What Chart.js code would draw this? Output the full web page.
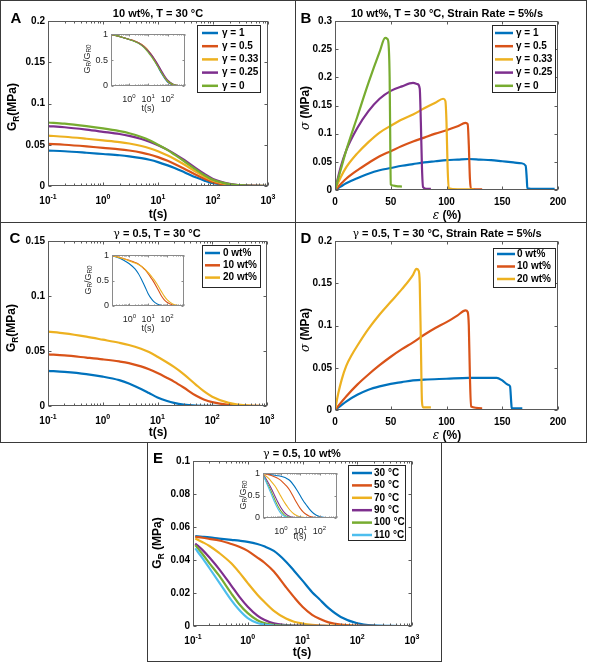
<!DOCTYPE html>
<html>
<head>
<meta charset="utf-8">
<script src="https://cdn.jsdelivr.net/npm/chart.js@4.4.1/dist/chart.umd.min.js"></script>
<style>
    body { margin: 0; background: #fff; }
    #fig { position: relative; width: 590px; height: 664px; overflow: hidden; font-family: "Liberation Sans", Arial, sans-serif; }
    canvas { position: absolute; }
    .t { position: absolute; transform: translate(-50%, -50%); white-space: nowrap; font-weight: bold; color: #000; z-index: 5; line-height: 1; }
    .ttl { font-size: 11px; }
    .ax { font-size: 12px; }
    .rot { transform: translate(-50%, -50%) rotate(-90deg); }
    .let { font-size: 15px; }
    .ins { font-size: 9px; font-weight: normal; color: #262626; }
    .sym { font-family: "DejaVu Serif", serif; font-weight: normal; }
    .it { font-family: "DejaVu Serif", serif; font-style: italic; font-weight: normal; }
    sub { font-size: 0.7em; vertical-align: -0.3em; line-height: 0; }
    .ln { position: absolute; background: #3a3a3a; z-index: 6; }
</style>
</head>
<body>
<div id="fig">
    <!-- panel frames -->
    <div class="ln" style="left:0;top:0;width:587px;height:1px"></div>
    <div class="ln" style="left:0;top:0;width:1px;height:443px"></div>
    <div class="ln" style="left:586px;top:0;width:1px;height:443px"></div>
    <div class="ln" style="left:295px;top:0;width:1px;height:443px"></div>
    <div class="ln" style="left:0;top:222px;width:587px;height:1px"></div>
    <div class="ln" style="left:0;top:442px;width:587px;height:1px"></div>
    <div class="ln" style="left:147px;top:442px;width:1px;height:220px"></div>
    <div class="ln" style="left:441px;top:442px;width:1px;height:220px"></div>
    <div class="ln" style="left:147px;top:661px;width:295px;height:1px"></div>

    <!-- panel letters -->
    <div class="t let" style="left:16px;top:17px">A</div>
    <div class="t let" style="left:306px;top:17px">B</div>
    <div class="t let" style="left:15px;top:237px">C</div>
    <div class="t let" style="left:306px;top:237px">D</div>
    <div class="t let" style="left:158px;top:457px">E</div>

    <!-- titles -->
    <div class="t ttl" style="left:158px;top:13px">10 wt%, T = 30 °C</div>
    <div class="t ttl" style="left:447px;top:13px">10 wt%, T = 30 °C, Strain Rate = 5%/s</div>
    <div class="t ttl" style="left:157px;top:233px"><span class="sym">γ</span> = 0.5, T = 30 °C</div>
    <div class="t ttl" style="left:447px;top:233px"><span class="sym">γ</span> = 0.5, T = 30 °C, Strain Rate = 5%/s</div>
    <div class="t ttl" style="left:302px;top:453px"><span class="sym">γ</span> = 0.5, 10 wt%</div>

    <!-- axis titles -->
    <div class="t ax rot" style="left:12px;top:107px">G<sub>R</sub>(MPa)</div>
    <div class="t ax" style="left:158px;top:214px">t(s)</div>
    <div class="t ax rot" style="left:305px;top:108px"><span class="it">σ</span> (MPa)</div>
    <div class="t ax" style="left:447px;top:215px"><span class="it">ε</span> (%)</div>
    <div class="t ax rot" style="left:11px;top:328px">G<sub>R</sub>(MPa)</div>
    <div class="t ax" style="left:158px;top:432px">t(s)</div>
    <div class="t ax rot" style="left:305px;top:330px"><span class="it">σ</span> (MPa)</div>
    <div class="t ax" style="left:447px;top:435px"><span class="it">ε</span> (%)</div>
    <div class="t ax rot" style="left:157px;top:543px">G<sub>R</sub> (MPa)</div>
    <div class="t ax" style="left:302px;top:652px">t(s)</div>

    <!-- inset titles -->
    <div class="t ins rot" style="left:87px;top:59px">G<sub>R</sub>/G<sub>R0</sub></div>
    <div class="t ins" style="left:148px;top:108px">t(s)</div>
    <div class="t ins rot" style="left:88px;top:280px">G<sub>R</sub>/G<sub>R0</sub></div>
    <div class="t ins" style="left:148px;top:328px">t(s)</div>
    <div class="t ins rot" style="left:243px;top:495px">G<sub>R</sub>/G<sub>R0</sub></div>
    <div class="t ins" style="left:300px;top:536px">t(s)</div>
</div>

<script>
// ---- A: relaxation modulus, 10 wt%, 30 °C, varying gamma
const tA = [0.1, 0.2, 0.5, 1, 2, 3, 5, 7, 10, 15, 20, 30, 50, 70, 100, 200, 300, 500, 1000];
const gammaNames = ['γ = 1', 'γ = 0.5', 'γ = 0.33', 'γ = 0.25', 'γ = 0'];
const relaxA_g1   = [0.043, 0.0421, 0.0403, 0.0388, 0.0373, 0.036, 0.0338, 0.0318, 0.029, 0.025, 0.0218, 0.0168, 0.0102, 0.0065, 0.0033, 0.0007, 0.0002, 0, 0];
const relaxA_g05  = [0.051, 0.050, 0.048, 0.0462, 0.0445, 0.043, 0.0405, 0.0382, 0.035, 0.0305, 0.0268, 0.021, 0.0132, 0.0087, 0.0047, 0.0011, 0.0004, 0.0001, 0];
const relaxA_g033 = [0.061, 0.0597, 0.0573, 0.0553, 0.0532, 0.0515, 0.0485, 0.0458, 0.0422, 0.037, 0.0327, 0.026, 0.0168, 0.0113, 0.0065, 0.0017, 0.0007, 0.0002, 0];
const relaxA_g025 = [0.0726, 0.0712, 0.0683, 0.0657, 0.063, 0.0608, 0.057, 0.0537, 0.0495, 0.0438, 0.039, 0.0315, 0.021, 0.0145, 0.0085, 0.0025, 0.0011, 0.0004, 0];
const relaxA_g0   = [0.077, 0.0755, 0.0725, 0.0698, 0.0665, 0.064, 0.0595, 0.0555, 0.050, 0.0435, 0.038, 0.030, 0.0195, 0.013, 0.0075, 0.0022, 0.001, 0.0003, 0];

// ---- B: stress-strain, 10 wt%, varying gamma
const strainB_g1   = [0, 5, 10, 20, 30, 40, 50, 60, 70, 80, 90, 100, 110, 120, 130, 140, 150, 160, 167, 171, 172, 172.5, 180, 197];
const stressB_g1   = [0, 0.006, 0.012, 0.021, 0.029, 0.035, 0.039, 0.043, 0.046, 0.049, 0.051, 0.053, 0.054, 0.055, 0.054, 0.053, 0.051, 0.049, 0.0475, 0.043, 0.02, 0.003, 0.002, 0.002];
const strainB_g05  = [0, 10, 20, 30, 40, 50, 60, 70, 80, 90, 100, 110, 117, 119, 120, 121, 122, 132];
const stressB_g05  = [0, 0.02, 0.035, 0.048, 0.06, 0.069, 0.078, 0.086, 0.093, 0.1, 0.106, 0.113, 0.119, 0.117, 0.08, 0.02, 0.002, 0.001];
const strainB_g033 = [0, 5, 10, 20, 30, 40, 50, 60, 70, 80, 90, 97, 99, 100, 101, 102, 110, 125];
const stressB_g033 = [0, 0.022, 0.04, 0.065, 0.085, 0.102, 0.114, 0.125, 0.134, 0.145, 0.155, 0.162, 0.158, 0.12, 0.04, 0.003, 0.001, 0.001];
const strainB_g025 = [0, 5, 10, 20, 30, 40, 50, 60, 70, 74, 76, 77, 78, 79, 82, 86];
const stressB_g025 = [0, 0.04, 0.07, 0.11, 0.14, 0.162, 0.176, 0.184, 0.19, 0.188, 0.18, 0.12, 0.04, 0.005, 0.002, 0.002];
const strainB_g0   = [0, 5, 10, 20, 30, 40, 45, 47, 48, 49, 49.5, 50, 52, 55, 60];
const stressB_g0   = [0, 0.035, 0.07, 0.13, 0.19, 0.245, 0.27, 0.268, 0.26, 0.2, 0.1, 0.01, 0.008, 0.007, 0.006];

// ---- C: relaxation modulus, gamma 0.5, varying loading
const tC = [0.1, 0.2, 0.5, 1, 2, 3, 5, 7, 10, 15, 20, 30, 50, 70, 100, 200, 300, 500, 800];
const wtNames = ['0 wt%', '10 wt%', '20 wt%'];
const relaxC_0  = [0.032, 0.031, 0.029, 0.0267, 0.0235, 0.0205, 0.0155, 0.0118, 0.0078, 0.0045, 0.0028, 0.0013, 0.0004, 0.0002, 0.0001, 0, 0, null, null];
const relaxC_10 = [0.047, 0.046, 0.044, 0.0424, 0.0405, 0.039, 0.036, 0.0335, 0.030, 0.0255, 0.0222, 0.0168, 0.0095, 0.006, 0.0035, 0.001, 0.0005, 0.0001, 0];
const relaxC_20 = [0.0676, 0.066, 0.063, 0.0603, 0.0575, 0.0555, 0.052, 0.049, 0.0448, 0.0395, 0.0355, 0.029, 0.0195, 0.0135, 0.0085, 0.0028, 0.0013, 0.0004, 0];

// ---- D: stress-strain, gamma 0.5, varying loading
const strainD_0  = [0, 5, 10, 20, 30, 40, 50, 60, 70, 80, 100, 120, 145, 150, 155, 157, 158, 158.5, 168];
const stressD_0  = [0, 0.005, 0.01, 0.018, 0.024, 0.028, 0.031, 0.033, 0.035, 0.036, 0.037, 0.038, 0.038, 0.035, 0.03, 0.028, 0.01, 0.002, 0.002];
const strainD_10 = [0, 10, 20, 30, 40, 50, 60, 70, 80, 90, 100, 110, 117, 119, 120, 121, 122, 132];
const stressD_10 = [0, 0.016, 0.03, 0.042, 0.053, 0.063, 0.072, 0.08, 0.089, 0.097, 0.104, 0.112, 0.118, 0.116, 0.1, 0.04, 0.004, 0.002];
const strainD_20 = [0, 3, 6, 10, 15, 20, 30, 40, 50, 60, 70, 73, 75, 76, 77, 78, 79, 86];
const stressD_20 = [0, 0.02, 0.036, 0.052, 0.065, 0.076, 0.096, 0.113, 0.128, 0.143, 0.16, 0.167, 0.165, 0.15, 0.08, 0.01, 0.003, 0.003];

// ---- E: relaxation modulus, gamma 0.5, 10 wt%, varying temperature
const tE = [0.11, 0.15, 0.2, 0.3, 0.5, 0.7, 1, 1.5, 2, 3, 5, 7, 10, 15, 20, 30, 50, 100, 200, 600];
const tempNames = ['30 °C', '50 °C', '70 °C', '90 °C', '100 °C', '110 °C'];
const relaxE_30  = [0.0545, 0.0541, 0.0537, 0.053, 0.0522, 0.0517, 0.051, 0.0497, 0.0483, 0.0455, 0.039, 0.0335, 0.0275, 0.0205, 0.0165, 0.0108, 0.0055, 0.0017, 0.0004, 0];
const relaxE_50  = [0.054, 0.0535, 0.0528, 0.0518, 0.0497, 0.048, 0.0455, 0.0415, 0.0385, 0.033, 0.0235, 0.0175, 0.0117, 0.0068, 0.0045, 0.0022, 0.0008, 0.0002, 0.00005, null];
const relaxE_70  = [0.053, 0.0508, 0.0485, 0.0443, 0.038, 0.0325, 0.026, 0.019, 0.0147, 0.0092, 0.0045, 0.0026, 0.0015, 0.0007, 0.0004, 0.0002, 0.0001, 0, null, null];
const relaxE_90  = [0.050, 0.046, 0.0415, 0.0345, 0.0245, 0.0178, 0.0117, 0.0063, 0.0038, 0.0016, 0.0006, 0.0003, 0.0002, 0.0001, 0.0001, 0, 0, null, null, null];
const relaxE_100 = [0.049, 0.0435, 0.038, 0.0305, 0.0198, 0.0132, 0.0078, 0.0035, 0.0018, 0.0007, 0.0002, 0.0001, 0.0001, 0, 0, 0, 0, 0, null, null];
const relaxE_110 = [0.047, 0.041, 0.035, 0.0265, 0.0157, 0.0097, 0.0048, 0.0018, 0.0009, 0.0003, 0.0001, 0, 0, 0, 0, 0, 0, null, null, null];

const BLUE = '#0072BD', ORANGE = '#D95319', YELLOW = '#EDB120', PURPLE = '#7E2F8E', GREEN = '#77AC30', CYAN = '#4DBEEE';
const FONT = '"Liberation Sans", Arial, sans-serif';

// box around the axes, inward ticks on all four sides, 10^n labels for log axes
const framePlugin = {
    id: 'frame',
    beforeDatasetsDraw(chart, args, o) {
        if (!o.fill) return;
        const a = chart.chartArea;
        chart.ctx.save();
        chart.ctx.fillStyle = '#fff';
        chart.ctx.fillRect(a.left, a.top, a.right - a.left, a.bottom - a.top);
        chart.ctx.restore();
    },
    afterDatasetsDraw(chart, args, o) {
        const { ctx, chartArea: a } = chart;
        const xs = chart.scales.x, ys = chart.scales.y;
        const L = Math.round(a.left) + 0.5, R = Math.round(a.right) - 0.5;
        const T = Math.round(a.top) + 0.5, B = Math.round(a.bottom) - 0.5;
        ctx.save();
        ctx.strokeStyle = o.color;
        ctx.lineWidth = 1;
        ctx.strokeRect(L, T, R - L, B - T);
        ctx.beginPath();
        const xt = [];
        if (xs.type === 'logarithmic') {
            for (let d = Math.floor(Math.log10(xs.min)); d <= Math.ceil(Math.log10(xs.max)); d++) {
                for (let k = 1; k < 10; k++) {
                    const v = k * Math.pow(10, d);
                    if (v >= xs.min * 0.999 && v <= xs.max * 1.001) xt.push([v, k === 1 ? o.major : o.minor]);
                }
            }
        } else {
            xs.ticks.forEach(t => xt.push([t.value, o.major]));
        }
        xt.forEach(([v, len]) => {
            const p = Math.round(xs.getPixelForValue(v)) + 0.5;
            ctx.moveTo(p, B); ctx.lineTo(p, B - len);
            ctx.moveTo(p, T); ctx.lineTo(p, T + len);
        });
        ys.ticks.forEach(t => {
            const p = Math.round(ys.getPixelForValue(t.value)) + 0.5;
            ctx.moveTo(L, p); ctx.lineTo(L + o.major, p);
            ctx.moveTo(R, p); ctx.lineTo(R - o.major, p);
        });
        ctx.stroke();

        // power-of-ten labels
        if (o.decades) {
            ctx.fillStyle = o.labelColor;
            ctx.textAlign = 'left';
            ctx.textBaseline = 'alphabetic';
            o.decades.forEach(d => {
                const p = xs.getPixelForValue(Math.pow(10, d));
                const e = String(d);
                ctx.font = o.font;
                const w1 = ctx.measureText('10').width;
                ctx.font = o.supFont;
                const w2 = ctx.measureText(e).width;
                const x0 = p - (w1 + w2) / 2;
                ctx.font = o.font;
                ctx.fillText('10', x0, B + o.labelDy);
                ctx.font = o.supFont;
                ctx.fillText(e, x0 + w1, B + o.labelDy - o.supRise);
            });
        }
        ctx.restore();
    }
};

// MATLAB-style legend box inside the axes
const boxLegend = {
    id: 'boxLegend',
    afterDraw(chart, args, o) {
        if (!o.box) return;
        const ctx = chart.ctx, b = o.box;
        ctx.save();
        ctx.fillStyle = '#fff';
        ctx.fillRect(b.x, b.y, b.w, b.h);
        ctx.strokeStyle = '#262626';
        ctx.lineWidth = 1;
        ctx.strokeRect(b.x + 0.5, b.y + 0.5, b.w, b.h);
        ctx.font = o.font;
        ctx.textBaseline = 'middle';
        ctx.textAlign = 'left';
        chart.data.datasets.forEach((ds, i) => {
            const y = b.row0 + i * b.rowH;
            ctx.strokeStyle = ds.borderColor;
            ctx.lineWidth = 2.5;
            ctx.beginPath();
            ctx.moveTo(b.lx1, y);
            ctx.lineTo(b.lx2, y);
            ctx.stroke();
            ctx.fillStyle = '#000';
            ctx.fillText(ds.label, b.tx, y);
        });
        ctx.restore();
    }
};

function addCanvas(x, y, w, h) {
    const c = document.createElement('canvas');
    c.width = w;
    c.height = h;
    c.style.cssText = `left:${x}px;top:${y}px;width:${w}px;height:${h}px`;
    document.getElementById('fig').appendChild(c);
    return c;
}

function series(xs, ys, label, color, width, i) {
    return {
        label: label,
        borderColor: color,
        borderWidth: width,
        data: xs.map((x, k) => ({ x: x, y: ys[k] })),
        pointRadius: 0,
        fill: false,
        order: -i
    };
}

function normalized(ys) {
    return ys.map(v => v == null ? null : v / ys[0]);
}

// one axes: box = canvas position, plot = {yw, xh, top, right} margins around the plot area
function makeAxes(box, plot, datasets, opt) {
    const canvas = addCanvas(box.x, box.y, box.w, box.h);
    const inset = !!opt.inset;
    const tickFont = inset ? { family: FONT, size: 9 } : { family: FONT, size: 10, weight: 'bold' };
    const tickColor = inset ? '#262626' : '#000';
    return new Chart(canvas, {
        type: 'line',
        data: { datasets: datasets },
        options: {
            responsive: false,
            animation: false,
            devicePixelRatio: 1,
            layout: { padding: { top: plot.top, right: plot.right, left: 0, bottom: 0 } },
            elements: { line: { cubicInterpolationMode: 'monotone' } },
            plugins: {
                legend: { display: false },
                tooltip: { enabled: false },
                frame: {
                    color: inset ? '#8a8a8a' : '#5a5a5a',
                    major: inset ? 2 : 3,
                    minor: inset ? 1 : 2,
                    fill: inset,
                    decades: opt.decades || null,
                    font: inset ? `9px ${FONT}` : `bold 10px ${FONT}`,
                    supFont: inset ? `6px ${FONT}` : `bold 7px ${FONT}`,
                    labelDy: inset ? 16 : 18,
                    supRise: inset ? 4 : 5,
                    labelColor: tickColor
                },
                boxLegend: { box: opt.legend || null, font: `bold 10px ${FONT}` }
            },
            scales: {
                x: {
                    type: opt.logX ? 'logarithmic' : 'linear',
                    min: opt.xMin,
                    max: opt.xMax,
                    grid: { display: false, drawTicks: false },
                    border: { display: false },
                    ticks: opt.logX ? { display: false } : { stepSize: opt.xStep, font: tickFont, color: tickColor, padding: 6, maxRotation: 0 },
                    afterFit: s => { s.height = plot.xh; }
                },
                y: {
                    type: 'linear',
                    min: opt.yMin,
                    max: opt.yMax,
                    grid: { display: false, drawTicks: false },
                    border: { display: false },
                    ticks: { stepSize: opt.yStep, font: tickFont, color: tickColor, padding: 3, callback: v => String(+v.toFixed(4)) },
                    afterFit: s => { s.width = plot.yw; }
                }
            }
        },
        plugins: [framePlugin, boxLegend]
    });
}

const MAIN_DEC = [-1, 0, 1, 2, 3];
const INSET_DEC = [0, 1, 2];

// ---------- A
const relaxA = [relaxA_g1, relaxA_g05, relaxA_g033, relaxA_g025, relaxA_g0];
const colorsA = [BLUE, ORANGE, YELLOW, PURPLE, GREEN];
makeAxes({ x: 0, y: 0, w: 290, h: 222 }, { yw: 48, xh: 36, top: 21, right: 22 },
    relaxA.map((ys, i) => series(tA, ys, gammaNames[i], colorsA[i], 2.2, i)),
    { logX: true, xMin: 0.1, xMax: 1000, yMin: 0, yMax: 0.2, yStep: 0.05, decades: MAIN_DEC,
      legend: { x: 197, y: 25, w: 63, h: 67, row0: 33, rowH: 13.2, lx1: 202, lx2: 218, tx: 222 } });
makeAxes({ x: 80, y: 26, w: 110, h: 94 }, { yw: 31, xh: 34, top: 6, right: 5 },
    relaxA.map((ys, i) => series(tA, normalized(ys), gammaNames[i], colorsA[i], 1.1, i)),
    { inset: true, logX: true, xMin: 0.12, xMax: 800, yMin: 0, yMax: 1, yStep: 0.5, decades: INSET_DEC });

// ---------- B
const strainB = [strainB_g1, strainB_g05, strainB_g033, strainB_g025, strainB_g0];
const stressB = [stressB_g1, stressB_g05, stressB_g033, stressB_g025, stressB_g0];
makeAxes({ x: 295, y: 0, w: 295, h: 222 }, { yw: 40, xh: 32, top: 21, right: 32 },
    stressB.map((ys, i) => series(strainB[i], ys, gammaNames[i], colorsA[i], 2.2, i)),
    { xMin: 0, xMax: 200, xStep: 50, yMin: 0, yMax: 0.3, yStep: 0.05,
      legend: { x: 197, y: 25, w: 63, h: 67, row0: 33, rowH: 13.2, lx1: 200, lx2: 218, tx: 221 } });

// ---------- C
const relaxC = [relaxC_0, relaxC_10, relaxC_20];
const colorsC = [BLUE, ORANGE, YELLOW];
makeAxes({ x: 0, y: 222, w: 290, h: 220 }, { yw: 48, xh: 36, top: 19, right: 23 },
    relaxC.map((ys, i) => series(tC, ys, wtNames[i], colorsC[i], 2.2, i)),
    { logX: true, xMin: 0.1, xMax: 1000, yMin: 0, yMax: 0.15, yStep: 0.05, decades: MAIN_DEC,
      legend: { x: 202, y: 23, w: 58, h: 42, row0: 31, rowH: 12.3, lx1: 205, lx2: 220, tx: 223 } });
makeAxes({ x: 80, y: 247, w: 110, h: 94 }, { yw: 32, xh: 35, top: 6, right: 6 },
    relaxC.map((ys, i) => series(tC, normalized(ys), wtNames[i], colorsC[i], 1.1, i)),
    { inset: true, logX: true, xMin: 0.12, xMax: 800, yMin: 0, yMax: 1, yStep: 0.5, decades: INSET_DEC });

// ---------- D
const strainD = [strainD_0, strainD_10, strainD_20];
const stressD = [stressD_0, stressD_10, stressD_20];
makeAxes({ x: 295, y: 222, w: 295, h: 220 }, { yw: 40, xh: 32, top: 19, right: 32 },
    stressD.map((ys, i) => series(strainD[i], ys, wtNames[i], colorsC[i], 2.2, i)),
    { xMin: 0, xMax: 200, xStep: 50, yMin: 0, yMax: 0.2, yStep: 0.05,
      legend: { x: 198, y: 26, w: 62, h: 39, row0: 32, rowH: 12.5, lx1: 202, lx2: 220, tx: 222 } });

// ---------- E
const relaxE = [relaxE_30, relaxE_50, relaxE_70, relaxE_90, relaxE_100, relaxE_110];
const colorsE = [BLUE, ORANGE, YELLOW, PURPLE, GREEN, CYAN];
makeAxes({ x: 147, y: 442, w: 294, h: 220 }, { yw: 46, xh: 36, top: 19, right: 29 },
    relaxE.map((ys, i) => series(tE, ys, tempNames[i], colorsE[i], 2.2, i)),
    { logX: true, xMin: 0.1, xMax: 1000, yMin: 0, yMax: 0.1, yStep: 0.02, decades: MAIN_DEC,
      legend: { x: 201, y: 23, w: 57, h: 75, row0: 31, rowH: 12.4, lx1: 205, lx2: 225, tx: 227 } });
makeAxes({ x: 232, y: 465, w: 110, h: 90 }, { yw: 31, xh: 37, top: 6, right: 5 },
    relaxE.map((ys, i) => series(tE, normalized(ys), tempNames[i], colorsE[i], 1.1, i)),
    { inset: true, logX: true, xMin: 0.12, xMax: 800, yMin: 0, yMax: 1, yStep: 0.5, decades: INSET_DEC });
</script>
</body>
</html>
